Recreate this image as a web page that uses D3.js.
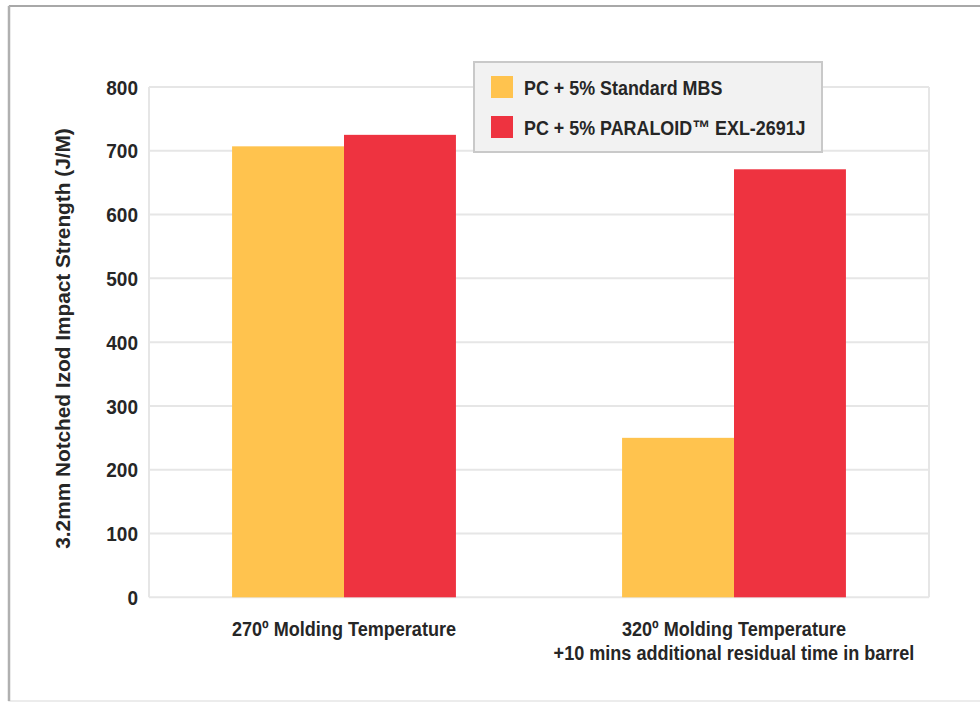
<!DOCTYPE html>
<html>
<head>
<meta charset="utf-8">
<script src="https://cdn.jsdelivr.net/npm/d3@7"></script>
<style>
  html, body { margin: 0; padding: 0; background: #fff; }
  svg { display: block; }
  text { font-family: "Liberation Sans", Arial, Helvetica, sans-serif; fill: #262626; }
</style>
</head>
<body>
<svg id="chart" width="980" height="703"></svg>
<script>
// ---- data ----
const categories = ["270º Molding Temperature", "320º Molding Temperature\n+10 mins additional residual time in barrel"];
const seriesNames = ["PC + 5% Standard MBS", "PC + 5% PARALOID™ EXL-2691J"];
const standardMBS = [707, 250];
const paraloid = [725, 671];
const yTicks = [0, 100, 200, 300, 400, 500, 600, 700, 800];
const yTitle = "3.2mm Notched Izod Impact Strength (J/M)";
const colors = ["#FFC34E", "#EE3340"];

const svg = d3.select("#chart");
const W = 980, H = 703;
const m = { left: 149, right: 980 - 929, top: 87, bottom: 703 - 597.3 };
const pw = W - m.left - m.right, ph = H - m.top - m.bottom;

function squeeze(sel, k) {
  sel.each(function () {
    const len = this.getComputedTextLength();
    if (len > 0) {
      d3.select(this).attr("textLength", len * k).attr("lengthAdjust", "spacingAndGlyphs");
    }
  });
}

// outer frame
svg.append("rect").attr("x", 9).attr("y", 6).attr("width", W + 10).attr("height", 695)
  .attr("fill", "none").attr("stroke", "#e6e6e6").attr("stroke-width", 1.5);
svg.append("line").attr("x1", 9).attr("x2", W).attr("y1", 6).attr("y2", 6)
  .attr("stroke", "#a8a8a8").attr("stroke-width", 2);
svg.append("line").attr("x1", 9).attr("x2", 9).attr("y1", 6).attr("y2", 701)
  .attr("stroke", "#b0b0b0").attr("stroke-width", 2.5);

const g = svg.append("g").attr("transform", `translate(${m.left},${m.top})`);

const x0 = d3.scaleBand().domain(categories).range([0, pw]).paddingInner(0.426).paddingOuter(0.213);
const x1 = d3.scaleBand().domain(seriesNames).range([0, x0.bandwidth()]);
const y = d3.scaleLinear().domain([0, 800]).range([ph, 0]);

// gridlines
g.append("g").selectAll("line").data(yTicks).join("line")
  .attr("x1", 0).attr("x2", pw).attr("y1", d => y(d)).attr("y2", d => y(d))
  .attr("stroke", "#e6e6e6").attr("stroke-width", 2);
// plot side borders
g.append("line").attr("x1", 0).attr("x2", 0).attr("y1", 0).attr("y2", ph).attr("stroke", "#e6e6e6").attr("stroke-width", 2);
g.append("line").attr("x1", pw).attr("x2", pw).attr("y1", 0).attr("y2", ph).attr("stroke", "#e6e6e6").attr("stroke-width", 2);

// bars
const rows = categories.map((c, i) => ({ cat: c, vals: [standardMBS[i], paraloid[i]] }));
const grp = g.append("g").selectAll("g").data(rows).join("g")
  .attr("transform", d => `translate(${x0(d.cat)},0)`);
grp.selectAll("rect").data(d => d.vals.map((v, j) => ({ name: seriesNames[j], v, j }))).join("rect")
  .attr("x", d => x1(d.name)).attr("width", x1.bandwidth())
  .attr("y", d => y(d.v)).attr("height", d => y(0) - y(d.v))
  .attr("fill", d => colors[d.j]);

// y axis labels
const yAxis = g.append("g").attr("transform", "translate(-11,0)")
  .call(d3.axisLeft(y).tickValues(yTicks).tickSize(0).tickPadding(0));
yAxis.select(".domain").remove();
yAxis.selectAll("text").attr("font-size", 20).attr("font-weight", "bold")
  .attr("fill", "#262626").attr("dy", "0.36em").style("font-family", "'Liberation Sans', Arial, sans-serif");
squeeze(yAxis.selectAll("text"), 0.95);

// y title
const yt = svg.append("text").attr("transform", `translate(70,${338.5}) rotate(-90)`)
  .attr("text-anchor", "middle").attr("font-size", 21).attr("font-weight", "bold").text(yTitle);
squeeze(yt, 0.99);

// x category labels
const xl = g.append("g").selectAll("text").data(categories).join("text")
  .attr("x", d => x0(d) + x0.bandwidth() / 2)
  .attr("y", ph + 39)
  .attr("text-anchor", "middle").attr("font-size", 21).attr("font-weight", "bold");
xl.each(function (d) {
  const lines = d.split("\n");
  d3.select(this).selectAll("tspan").data(lines).join("tspan")
    .attr("x", x0(d) + x0.bandwidth() / 2).attr("dy", (l, i) => i === 0 ? 0 : 24).text(l => l);
});
squeeze(xl.selectAll("tspan"), 0.86);

// legend
const lg = svg.append("g").attr("transform", "translate(473,61)");
lg.append("rect").attr("x", 1).attr("y", 1).attr("width", 348).attr("height", 90)
  .attr("fill", "#f2f2f2").attr("stroke", "#c9c9c9").attr("stroke-width", 2);
const li = lg.selectAll("g.item").data(seriesNames).join("g").attr("class", "item")
  .attr("transform", (d, i) => `translate(18,${15 + i * 40})`);
li.append("rect").attr("width", 22).attr("height", 22).attr("fill", (d, i) => colors[i]);
const lt = li.append("text").attr("x", 33).attr("y", 11.5).attr("dy", "0.36em")
  .attr("font-size", 21).attr("font-weight", "bold").text(d => d);
squeeze(lt, 0.852);
</script>
</body>
</html>
